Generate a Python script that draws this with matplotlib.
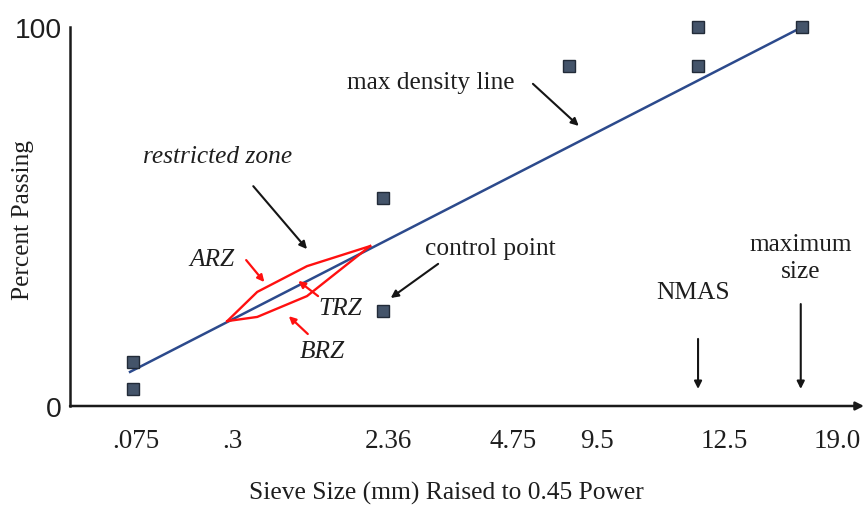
import matplotlib
matplotlib.use("Agg")
import matplotlib.pyplot as plt

# Gradation chart (0.45 power chart), schematic units: x runs 0-100 along the axis
sieve_labels = [".075", ".3", "2.36", "4.75", "9.5", "12.5", "19.0"]
sieve_pos = [8.4, 20.6, 40.3, 56.1, 66.7, 82.8, 97.1]

# Control points (square markers)
ctrl_x = [8.0, 8.0, 39.6, 39.6, 63.2, 79.5, 79.5, 92.7]
ctrl_y = [11.6, 4.5, 54.9, 25.1, 89.7, 100.0, 89.7, 100.0]

# Maximum density line
mdl_x = [7.6, 92.7]
mdl_y = [9.0, 100.0]

# Restricted zone boundaries
rz_x = [19.9, 23.7, 30.0, 38.0]
rz_upper = [22.4, 30.1, 36.9, 42.2]
rz_lower = [22.4, 23.5, 29.0, 42.2]

SERIF = "Liberation Serif"
SANS = "Liberation Sans"
TXT = "#1e1e1e"
NAVY = "#2C4A8C"
RED = "#FF1010"

fig = plt.figure(figsize=(8.67, 5.10), dpi=100)
ax = fig.add_axes([70 / 867, 103 / 510, 790 / 867, 379 / 510])
ax.set_xlim(0, 100)
ax.set_ylim(0, 100)

# max density line
ax.plot(mdl_x, mdl_y, color=NAVY, lw=1.8, zorder=3)

# restricted zone outline
ax.plot(rz_x, rz_upper, color=RED, lw=1.7, zorder=4)
ax.plot(rz_x, rz_lower, color=RED, lw=1.7, zorder=4)

# control points
ax.plot(ctrl_x, ctrl_y, linestyle="none", marker="s", markersize=9.2,
        markerfacecolor="#44546A", markeredgecolor="#222b38",
        markeredgewidth=1.0, zorder=5, clip_on=False)

# axes styling
for side in ("top", "right", "bottom"):
    ax.spines[side].set_visible(False)
ax.spines["left"].set_linewidth(1.8)
ax.spines["left"].set_color("#1a1a1a")
ax.annotate("", xy=(100.5, 0), xytext=(0, 0), xycoords="data",
            arrowprops=dict(arrowstyle="-|>", lw=1.8, color="#1a1a1a",
                            mutation_scale=12, shrinkA=0, shrinkB=0),
            annotation_clip=False)

ax.set_xticks(sieve_pos)
ax.set_xticklabels(sieve_labels, fontfamily=SERIF, fontsize=19.5, color=TXT)
ax.set_yticks([0, 100])
ax.set_yticklabels(["0", "100"], fontfamily=SANS, fontsize=20.3, color=TXT)
ax.tick_params(axis="x", length=0, pad=16)
ax.tick_params(axis="y", length=0, pad=6)

ax.set_xlabel("Sieve Size (mm) Raised to 0.45 Power", fontfamily=SERIF,
              fontsize=18.4, color=TXT)
ax.xaxis.label.set_va("center")
ax.xaxis.set_label_coords(0.477, -0.227)
ax.set_ylabel("Percent Passing", fontfamily=SERIF, fontsize=18.3, color=TXT)
ax.yaxis.label.set_va("center")
ax.yaxis.set_label_coords(-0.0595, 0.493)

black_arrow = dict(arrowstyle="-|>", lw=1.5, color="#151515",
                   mutation_scale=11, shrinkA=0, shrinkB=0)
red_arrow = dict(arrowstyle="-|>", lw=1.6, color=RED,
                 mutation_scale=10, shrinkA=0, shrinkB=0)

def note(text, xy, style="normal", **kw):
    ax.text(xy[0], xy[1], text, fontfamily=SERIF, fontsize=18.3, color=TXT,
            style=style, ha="center", va="center", **kw)

def arrow(start, end, props):
    ax.annotate("", xy=end, xytext=start, arrowprops=props, annotation_clip=False)

note("max density line", (45.7, 85.5))
arrow((58.6, 85.0), (64.4, 73.9), black_arrow)

note("restricted zone", (18.7, 66.0), style="italic")
arrow((23.2, 58.0), (30.0, 41.4), black_arrow)

note("ARZ", (18.0, 38.8), style="italic")
arrow((22.3, 38.5), (24.6, 32.7), red_arrow)

note("TRZ", (34.2, 25.9), style="italic")
arrow((31.4, 29.0), (28.9, 33.0), red_arrow)

note("BRZ", (32.0, 14.5), style="italic")
arrow((30.1, 19.0), (27.7, 23.7), red_arrow)

note("control point", (53.2, 41.7))
arrow((46.6, 37.5), (40.6, 28.5), black_arrow)

note("NMAS", (78.9, 30.1))
arrow((79.5, 17.7), (79.5, 4.5), black_arrow)

note("maximum\nsize", (92.5, 39.2), linespacing=1.3)
arrow((92.5, 26.9), (92.5, 4.5), black_arrow)

fig.savefig("out.png", dpi=100)
